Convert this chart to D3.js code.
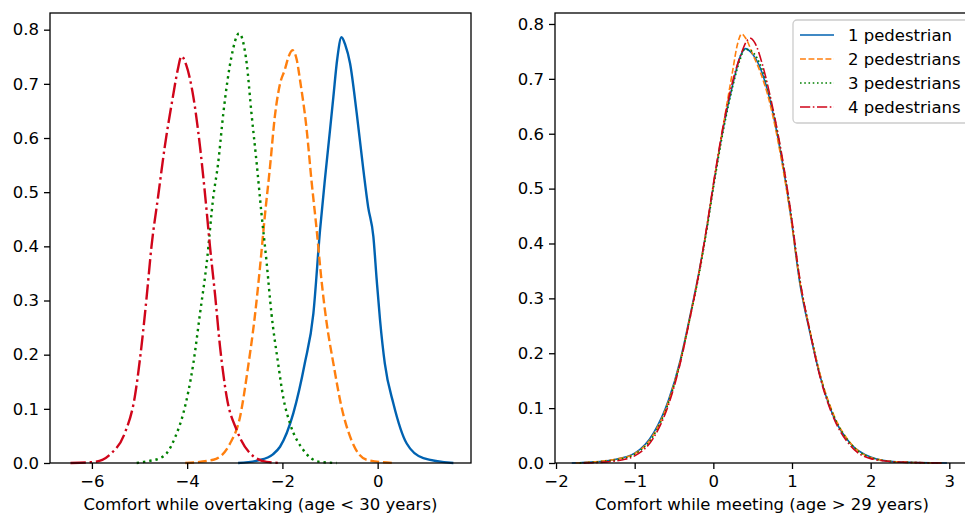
<!DOCTYPE html>
<html>
<head>
<meta charset="utf-8">
<script src="https://cdn.jsdelivr.net/npm/d3@7"></script>
<style>
  body { margin: 0; background: #fff; }
  svg { display: block; font-family: "DejaVu Sans", sans-serif; }
</style>
</head>
<body>
<script>
// kde curves, [x, density]
var overtake1 = [[-2.93,0],[-2.5,0.005],[-2.2,0.016],[-2.05,0.030],[-1.77,0.092],[-1.53,0.184],[-1.35,0.276],[-1.21,0.430],[-1.1,0.53],[-1.0,0.615],[-0.93,0.676],[-0.85,0.745],[-0.76,0.786],[-0.68,0.772],[-0.58,0.738],[-0.44,0.646],[-0.30,0.541],[-0.20,0.473],[-0.09,0.418],[-0.02,0.338],[0.05,0.264],[0.15,0.184],[0.33,0.110],[0.61,0.036],[0.96,0.009],[1.59,0]];
var overtake2 = [[-4.04,0],[-3.45,0.006],[-3.10,0.036],[-2.89,0.085],[-2.72,0.178],[-2.58,0.270],[-2.47,0.362],[-2.37,0.455],[-2.26,0.547],[-2.16,0.639],[-2.05,0.700],[-1.95,0.726],[-1.87,0.750],[-1.79,0.762],[-1.70,0.745],[-1.63,0.707],[-1.49,0.615],[-1.39,0.522],[-1.28,0.430],[-1.18,0.338],[-1.07,0.258],[-0.93,0.184],[-0.76,0.104],[-0.55,0.042],[-0.23,0.006],[0.33,0]];
var overtake3 = [[-5.06,0],[-4.85,0.003],[-4.57,0.009],[-4.43,0.018],[-4.25,0.048],[-4.08,0.092],[-3.87,0.184],[-3.73,0.276],[-3.59,0.369],[-3.45,0.492],[-3.35,0.553],[-3.24,0.646],[-3.07,0.750],[-2.91,0.793],[-2.75,0.738],[-2.65,0.646],[-2.54,0.553],[-2.44,0.461],[-2.33,0.369],[-2.23,0.276],[-2.09,0.184],[-1.98,0.12],[-1.84,0.073],[-1.56,0.024],[-1.21,0.002],[-0.86,0]];
var overtake4 = [[-6.45,0],[-5.94,0.002],[-5.59,0.018],[-5.31,0.055],[-5.10,0.122],[-4.96,0.215],[-4.85,0.307],[-4.75,0.399],[-4.61,0.492],[-4.47,0.584],[-4.30,0.676],[-4.20,0.725],[-4.12,0.751],[-4.02,0.735],[-3.87,0.676],[-3.73,0.584],[-3.62,0.492],[-3.52,0.399],[-3.41,0.307],[-3.31,0.215],[-3.17,0.122],[-2.96,0.061],[-2.68,0.018],[-2.33,0.002],[-2.05,0]];

var meet1 = [[-1.8,0],[-1.5,0.002],[-1.27,0.006],[-1.0,0.018],[-0.76,0.055],[-0.57,0.115],[-0.42,0.188],[-0.30,0.266],[-0.17,0.358],[-0.06,0.449],[0.0,0.505],[0.13,0.613],[0.25,0.692],[0.34,0.74],[0.41,0.755],[0.48,0.748],[0.59,0.722],[0.72,0.661],[0.85,0.570],[0.98,0.455],[1.10,0.327],[1.23,0.236],[1.36,0.157],[1.53,0.084],[1.74,0.036],[2.0,0.011],[2.33,0.002],[2.97,0]];
var meet2 = [[-1.75,0],[-1.45,0.003],[-1.2,0.008],[-1.0,0.017],[-0.76,0.052],[-0.57,0.112],[-0.42,0.186],[-0.30,0.264],[-0.17,0.357],[-0.06,0.450],[0.0,0.506],[0.13,0.618],[0.24,0.71],[0.31,0.765],[0.36,0.782],[0.42,0.772],[0.5,0.745],[0.59,0.715],[0.72,0.655],[0.85,0.565],[0.98,0.452],[1.10,0.330],[1.23,0.240],[1.36,0.160],[1.53,0.088],[1.74,0.037],[2.0,0.010],[2.33,0.002],[2.9,0]];
var meet3 = [[-1.7,0],[-1.4,0.003],[-1.2,0.007],[-1.0,0.016],[-0.76,0.050],[-0.57,0.110],[-0.42,0.184],[-0.30,0.262],[-0.17,0.352],[-0.06,0.445],[0.0,0.500],[0.13,0.608],[0.25,0.688],[0.34,0.735],[0.40,0.754],[0.47,0.752],[0.59,0.728],[0.72,0.668],[0.85,0.575],[0.98,0.460],[1.10,0.333],[1.23,0.240],[1.36,0.158],[1.53,0.086],[1.74,0.036],[2.0,0.010],[2.33,0.002],[2.9,0]];
var meet4 = [[-1.65,0],[-1.35,0.002],[-1.15,0.006],[-1.0,0.013],[-0.76,0.046],[-0.57,0.106],[-0.42,0.182],[-0.30,0.262],[-0.17,0.356],[-0.06,0.452],[0.0,0.508],[0.13,0.618],[0.25,0.698],[0.36,0.748],[0.42,0.768],[0.47,0.774],[0.53,0.765],[0.62,0.728],[0.72,0.670],[0.85,0.578],[0.98,0.462],[1.10,0.335],[1.23,0.238],[1.36,0.155],[1.53,0.082],[1.74,0.032],[2.0,0.008],[2.33,0.002],[2.9,0]];

var labels = ['1 pedestrian', '2 pedestrians', '3 pedestrians', '4 pedestrians'];
var yTicks = [0, 0.1, 0.2, 0.3, 0.4, 0.5, 0.6, 0.7, 0.8];
var xTicksLeft = [-6, -4, -2, 0];
var xTicksRight = [-2, -1, 0, 1, 2, 3];

var colors = ['#0062b1', '#ff7f0e', '#008000', '#d0051a'];

var width = 965;
var height = 513;

var svg = d3.select('body').append('svg')
    .attr('width', width)
    .attr('height', height);

// lw in px, dash patterns like matplotlib scale with line width
function dashes(style, lw) {
    if (style === 1) return [3.7 * lw, 1.6 * lw].join(',');
    if (style === 2) return [1 * lw, 1.65 * lw].join(',');
    if (style === 3) return [6.4 * lw, 1.6 * lw, 1 * lw, 1.6 * lw].join(',');
    return null;
}

function panel(opts) {
    var x = d3.scaleLinear().domain(opts.xdom).range([opts.left, opts.right]);
    var y = d3.scaleLinear().domain([0, opts.ymax]).range([opts.bottom, opts.top]);

    var g = svg.append('g');

    var line = d3.line()
        .x(function(d) { return x(d[0]); })
        .y(function(d) { return y(d[1]); })
        .curve(d3.curveMonotoneX);

    opts.series.forEach(function(s, i) {
        g.append('path')
            .datum(s)
            .attr('d', line)
            .attr('fill', 'none')
            .attr('stroke', colors[i])
            .attr('stroke-width', opts.lw)
            .attr('stroke-dasharray', dashes(i, opts.lw));
    });

    // frame
    g.append('rect')
        .attr('x', opts.left)
        .attr('y', opts.top)
        .attr('width', opts.right - opts.left)
        .attr('height', opts.bottom - opts.top)
        .attr('fill', 'none')
        .attr('stroke', '#000')
        .attr('stroke-width', 1.3);

    var xAxis = g.append('g')
        .attr('transform', 'translate(0,' + opts.bottom + ')')
        .call(d3.axisBottom(x).tickValues(opts.xticks).tickFormat(d3.format('d'))
            .tickSize(6).tickPadding(6));
    var yAxis = g.append('g')
        .attr('transform', 'translate(' + opts.left + ',0)')
        .call(d3.axisLeft(y).tickValues(yTicks).tickFormat(d3.format('.1f'))
            .tickSize(6).tickPadding(5));

    [xAxis, yAxis].forEach(function(a) {
        a.select('.domain').remove();
        a.selectAll('line').attr('stroke', '#000').attr('stroke-width', 1.3);
        a.selectAll('text')
            .attr('fill', '#000')
            .style('font-family', '"DejaVu Sans", sans-serif')
            .style('font-size', '16.5px');
    });

    g.append('text')
        .attr('x', (opts.left + Math.min(opts.right, width)) / 2 + (opts.labelShift || 0))
        .attr('y', 510)
        .attr('text-anchor', 'middle')
        .style('font-size', '16.5px')
        .text(opts.label);

    return { x: x, y: y };
}

panel({
    left: 50, right: 471, top: 13, bottom: 463,
    xdom: [-6.88, 1.96], ymax: 0.8308,
    xticks: xTicksLeft,
    series: [overtake1, overtake2, overtake3, overtake4],
    lw: 2.4,
    label: 'Comfort while overtaking (age < 30 years)'
});

panel({
    left: 555, right: 970, top: 13, bottom: 463,
    xdom: [-2.013, 3.263], ymax: 0.820,
    xticks: xTicksRight,
    series: [meet1, meet2, meet3, meet4],
    lw: 1.6,
    label: 'Comfort while meeting (age > 29 years)',
    labelShift: 2
});

// legend
var legend = svg.append('g').attr('transform', 'translate(793,20)');
legend.append('rect')
    .attr('width', 190)
    .attr('height', 103)
    .attr('rx', 4)
    .attr('fill', '#fff')
    .attr('fill-opacity', 0.8)
    .attr('stroke', '#cccccc')
    .attr('stroke-width', 1.3);

labels.forEach(function(l, i) {
    var row = legend.append('g').attr('transform', 'translate(0,' + (15 + i * 24) + ')');
    row.append('line')
        .attr('x1', 7).attr('x2', 41)
        .attr('stroke', colors[i])
        .attr('stroke-width', 1.6)
        .attr('stroke-dasharray', dashes(i, 1.6));
    row.append('text')
        .attr('x', 55)
        .attr('y', 6)
        .style('font-size', '16.5px')
        .text(l);
});
</script>
</body>
</html>
